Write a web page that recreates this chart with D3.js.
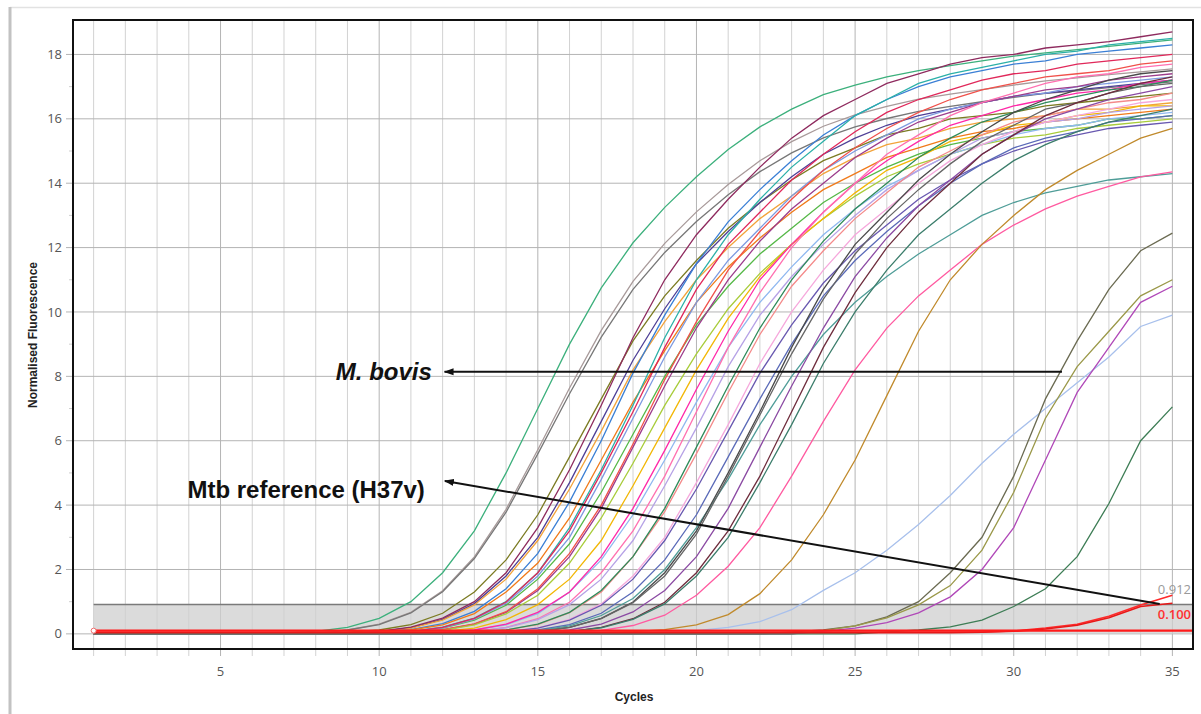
<!DOCTYPE html>
<html><head><meta charset="utf-8">
<script src="https://cdn.jsdelivr.net/npm/d3@7"></script>
<style>html,body{margin:0;padding:0;background:#fff;}svg{display:block;}</style>
</head><body>
<svg id="chart" width="1201" height="714"></svg>
<script>
// ---- data -------------------------------------------------------------
const cycles = [1,2,3,4,5,6,7,8,9,10,11,12,13,14,15,16,17,18,19,20,21,22,23,24,25,26,27,28,29,30,31,32,33,34,35];
const xTicks = [5,10,15,20,25,30,35];
const yTicks = [0,2,4,6,8,10,12,14,16,18];
const yMinorTicks = [1,3,5,7,9,11,13,15,17];
const thresholdHigh = 0.912;
const thresholdLow = 0.100;

// normalised fluorescence per cycle (cycles 1..35), one array per sample
const curveA1 = [0,0,0,0,0,0,0.04,0.08,0.2,0.48,1.0,1.9,3.2,5.0,7.0,9.0,10.75,12.15,13.25,14.2,15.05,15.75,16.3,16.75,17.05,17.3,17.5,17.65,17.8,17.95,18.05,18.15,18.25,18.35,18.45];
const curveA2 = [0,0,0,0,0,0,0.03,0.05,0.12,0.3,0.67,1.34,2.39,3.87,5.72,7.64,9.43,10.95,12.13,13.11,13.96,14.7,15.29,15.77,16.12,16.39,16.61,16.77,16.91,17.05,17.18,17.27,17.37,17.46,17.55];
const curveA3 = [0,0,0,0,0,0,0,0,0.12,0.29,0.65,1.31,2.34,3.78,5.59,7.46,9.22,10.7,11.85,12.81,13.64,14.36,14.94,15.41,15.75,16.01,16.23,16.39,16.53,16.67,16.79,16.87,16.97,17.06,17.15];
const curveM1 = [0,0,0,0,0,0,0,0,0.05,0.12,0.29,0.64,1.3,2.3,3.7,5.5,7.3,9.1,10.5,11.6,12.6,13.4,14.1,14.7,15.1,15.5,15.7,16.0,16.1,16.2,16.4,16.5,16.6,16.7,16.8];
const curveM2 = [0,0,0,0,0,0,0,0,0,0.07,0.19,0.45,0.94,1.8,3.0,4.7,6.6,8.5,10.1,11.5,12.5,13.4,14.2,14.9,15.4,15.8,16.1,16.3,16.5,16.7,16.8,16.9,17.0,17.1,17.2];
const curveM3 = [0,0,0,0,0,0,0,0,0,0.07,0.18,0.43,0.9,1.7,2.9,4.5,6.3,8.2,9.7,11.0,12.0,12.9,13.6,14.3,14.8,15.2,15.4,15.7,15.9,16.0,16.1,16.3,16.3,16.4,16.5];
const curveM4 = [0,0,0,0,0,0,0,0,0,0.08,0.21,0.49,1.0,1.9,3.3,5.1,7.1,9.2,11.0,12.4,13.5,14.5,15.4,16.1,16.6,17.1,17.4,17.7,17.9,18.0,18.2,18.3,18.4,18.55,18.7];
const curveM6 = [0,0,0,0,0,0,0,0,0,0.06,0.13,0.32,0.7,1.4,2.5,4.1,6.0,8.1,9.9,11.5,12.8,13.8,14.7,15.5,16.1,16.6,17.0,17.3,17.5,17.7,17.8,18.0,18.1,18.2,18.3];
const curveM7 = [0,0,0,0,0,0,0,0,0,0.05,0.12,0.28,0.63,1.3,2.2,3.6,5.4,7.2,8.8,10.3,11.4,12.3,13.1,13.8,14.3,14.8,15.1,15.4,15.6,15.7,15.9,16.0,16.1,16.2,16.3];
const curveM5 = [0,0,0,0,0,0,0,0,0,0,0.08,0.21,0.49,1.0,1.9,3.3,5.1,7.1,9.2,11.0,12.4,13.5,14.5,15.3,16.1,16.6,17.1,17.4,17.6,17.8,18.0,18.1,18.3,18.4,18.5];
const curveM8 = [0,0,0,0,0,0,0,0,0,0,0.07,0.18,0.43,0.89,1.7,2.8,4.4,6.2,8.0,9.6,10.8,11.8,12.6,13.4,14.0,14.5,14.9,15.2,15.4,15.6,15.7,15.8,16.0,16.0,16.1];
const curveM9 = [0,0,0,0,0,0,0,0,0,0,0.07,0.19,0.46,0.95,1.8,3.0,4.8,6.7,8.6,10.3,11.6,12.6,13.6,14.4,15.0,15.5,16.0,16.3,16.5,16.7,16.8,17.0,17.1,17.2,17.3];
const curveM10 = [0,0,0,0,0,0,0,0,0,0,0.07,0.2,0.48,0.99,1.9,3.2,5.0,6.9,8.9,10.7,12.1,13.1,14.1,14.9,15.6,16.2,16.6,16.9,17.2,17.4,17.5,17.7,17.8,17.9,18.0];
const curveM11 = [0,0,0,0,0,0,0,0,0,0,0.05,0.12,0.3,0.67,1.35,2.4,3.9,5.8,7.7,9.5,11.0,12.2,13.2,14.0,14.8,15.4,15.9,16.2,16.5,16.7,16.9,17.0,17.2,17.3,17.4];
const curveM12 = [0,0,0,0,0,0,0,0,0,0,0.05,0.13,0.31,0.69,1.4,2.5,4.0,5.9,7.9,9.7,11.3,12.5,13.5,14.4,15.1,15.7,16.2,16.6,16.9,17.1,17.3,17.4,17.5,17.7,17.8];
const curveM20 = [0,0,0,0,0,0,0,0,0,0,0.05,0.11,0.28,0.62,1.2,2.2,3.6,5.3,7.1,8.7,10.1,11.2,12.1,12.9,13.6,14.2,14.6,14.9,15.2,15.4,15.5,15.7,15.8,15.9,16.0];
const curveM13 = [0,0,0,0,0,0,0,0,0,0,0,0.07,0.18,0.44,0.91,1.7,2.9,4.6,6.4,8.2,9.8,11.1,12.1,12.9,13.7,14.4,14.8,15.3,15.5,15.8,15.9,16.1,16.2,16.4,16.4];
const curveM14 = [0,0,0,0,0,0,0,0,0,0,0,0.05,0.12,0.28,0.63,1.3,2.3,3.7,5.4,7.2,8.9,10.3,11.4,12.4,13.2,13.9,14.4,14.9,15.2,15.5,15.7,15.8,16.0,16.1,16.2];
const curveM15 = [0,0,0,0,0,0,0,0,0,0,0,0.05,0.12,0.3,0.67,1.3,2.4,3.9,5.7,7.6,9.4,11.0,12.1,13.1,14.0,14.7,15.3,15.8,16.1,16.4,16.6,16.8,16.9,17.1,17.2];
const curveM16 = [0,0,0,0,0,0,0,0,0,0,0,0,0.07,0.2,0.47,0.98,1.9,3.2,4.9,6.9,8.9,10.6,12.0,13.1,14.0,14.9,15.5,16.1,16.5,16.8,17.1,17.3,17.4,17.6,17.7];
const curveM21 = [0,0,0,0,0,0,0,0,0,0,0,0,0.07,0.19,0.44,0.91,1.7,2.9,4.6,6.4,8.3,9.9,11.1,12.1,13.0,13.8,14.4,14.9,15.4,15.6,15.9,16.0,16.2,16.3,16.4];
const curveM17 = [0,0,0,0,0,0,0,0,0,0,0,0,0.05,0.12,0.29,0.66,1.3,2.4,3.8,5.6,7.5,9.3,10.8,11.9,12.9,13.7,14.5,15.0,15.5,15.9,16.1,16.3,16.5,16.6,16.8];
const curveM18 = [0,0,0,0,0,0,0,0,0,0,0,0,0.05,0.12,0.3,0.67,1.35,2.4,3.9,5.8,7.7,9.5,11.0,12.2,13.2,14.0,14.8,15.4,15.9,16.2,16.5,16.7,16.9,17.0,17.2];
const curveM19 = [0,0,0,0,0,0,0,0,0,0,0,0,0,0.07,0.19,0.45,0.93,1.8,3.0,4.7,6.5,8.4,10.0,11.3,12.4,13.2,14.0,14.7,15.2,15.6,15.9,16.1,16.3,16.5,16.6];
const curveE2 = [0,0,0,0,0,0,0,0,0,0,0,0,0,0.07,0.18,0.43,0.89,1.7,2.9,4.5,6.3,8.1,9.6,10.9,11.9,12.7,13.5,14.1,14.6,15.0,15.3,15.5,15.7,15.8,15.9];
const curveE2b = [0,0,0,0,0,0,0,0,0,0,0,0,0,0.05,0.12,0.29,0.64,1.3,2.3,3.7,5.5,7.3,9.0,10.5,11.6,12.5,13.3,14.0,14.6,15.1,15.4,15.6,15.9,16.0,16.1];
const curveE1 = [0,0,0,0,0,0,0,0,0,0,0,0,0,0.04,0.1,0.25,0.57,1.1,2.0,3.3,4.8,6.5,8.0,9.3,10.3,11.1,11.8,12.4,13.0,13.4,13.7,13.9,14.1,14.2,14.3];
const curveE3 = [0,0,0,0,0,0,0,0,0,0,0,0,0,0,0.07,0.2,0.48,0.99,1.9,3.2,5.0,6.9,8.9,10.7,12.1,13.1,14.1,14.9,15.6,16.2,16.6,16.9,17.2,17.4,17.5];
const curveE3b = [0,0,0,0,0,0,0,0,0,0,0,0,0,0,0.07,0.2,0.47,0.97,1.8,3.1,4.9,6.8,8.7,10.4,11.8,12.9,13.8,14.6,15.3,15.8,16.3,16.5,16.8,17.0,17.1];
const curveE4 = [0,0,0,0,0,0,0,0,0,0,0,0,0,0,0.05,0.12,0.3,0.68,1.35,2.4,3.9,5.8,7.7,9.5,11.1,12.3,13.3,14.1,14.9,15.5,16.0,16.3,16.6,16.8,17.0];
const curveE5 = [0,0,0,0,0,0,0,0,0,0,0,0,0,0,0,0.07,0.2,0.47,0.98,1.9,3.2,4.9,6.9,8.9,10.6,12.0,13.1,14.0,14.9,15.5,16.1,16.5,16.8,17.1,17.3];
const curveE6 = [0,0,0,0,0,0,0,0,0,0,0,0,0,0,0,0.07,0.19,0.45,0.93,1.8,3.0,4.7,6.5,8.4,10.0,11.3,12.4,13.2,14.0,14.7,15.2,15.6,15.9,16.1,16.3];
const curveE7 = [0,0,0,0,0,0,0,0,0,0,0,0,0,0,0,0.05,0.11,0.26,0.58,1.2,2.1,3.3,4.9,6.6,8.2,9.5,10.5,11.3,12.1,12.7,13.2,13.6,13.9,14.2,14.35];
const curveO = [0,0,0,0,0,0,0,0,0,0,0,0,0,0,0,0,0.04,0.07,0.13,0.28,0.6,1.25,2.3,3.7,5.4,7.4,9.4,11.0,12.1,13.0,13.8,14.4,14.9,15.4,15.7];
const curveLB = [0,0,0,0,0,0,0,0,0,0,0,0,0,0,0,0,0,0,0.05,0.1,0.2,0.38,0.75,1.35,1.9,2.6,3.4,4.3,5.3,6.2,7.0,7.8,8.6,9.55,9.9];
const curveL1 = [0,0,0,0,0,0,0,0,0,0,0,0,0,0,0,0,0,0,0,0,0,0,0.06,0.12,0.25,0.53,1.0,1.9,3.0,4.9,7.3,9.1,10.7,11.9,12.45];
const curveL2 = [0,0,0,0,0,0,0,0,0,0,0,0,0,0,0,0,0,0,0,0,0,0,0,0.1,0.25,0.5,0.9,1.5,2.6,4.4,6.7,8.3,9.4,10.5,11.0];
const curveL3 = [0,0,0,0,0,0,0,0,0,0,0,0,0,0,0,0,0,0,0,0,0,0,0,0.08,0.18,0.35,0.65,1.15,2.0,3.3,5.4,7.5,8.9,10.3,10.8];
const curveDG = [0,0,0,0,0,0,0,0,0,0,0,0,0,0,0,0,0,0,0,0,0,0,0,0,0,0.06,0.12,0.22,0.43,0.85,1.4,2.4,4.05,6.0,7.05];
const curveR1 = [0.05,0.05,0.05,0.05,0.05,0.05,0.05,0.05,0.05,0.05,0.05,0.05,0.05,0.05,0.05,0.05,0.05,0.05,0.05,0.05,0.05,0.05,0.05,0.05,0.05,0.05,0.05,0.05,0.06,0.09,0.18,0.3,0.55,0.9,1.2];
const curveR2 = [0.04,0.04,0.04,0.04,0.04,0.04,0.04,0.04,0.04,0.04,0.04,0.04,0.04,0.04,0.04,0.04,0.04,0.04,0.04,0.04,0.04,0.04,0.04,0.04,0.04,0.04,0.04,0.04,0.05,0.08,0.15,0.27,0.5,0.85,0.95];

const curves = [curveA1,curveA2,curveA3,curveM1,curveM2,curveM3,curveM4,curveM6,curveM7,curveM5,curveM8,curveM9,curveM10,curveM11,curveM12,curveM20,curveM13,curveM14,curveM15,curveM16,curveM21,curveM17,curveM18,curveM19,curveE2,curveE2b,curveE1,curveE3,curveE3b,curveE4,curveE5,curveE6,curveE7,curveO,curveLB,curveL1,curveL2,curveL3,curveDG];
const curveColors = ["#3cb07c","#a89a9a","#777777","#7b7b22","#4e3f96","#f2a33a","#8e2a5e","#3a7fd5","#f07a1a","#2bb0a8","#55b847","#7d9ae0","#e0285a","#9c3c8c","#f0504a","#a8cc3a","#f2b705","#8fb8f0","#ff28a8","#ff70b0","#b6a2e6","#f48a8a","#2e8b5a","#f6a8dc","#6858b0","#5a6ab8","#4f9d98","#4a4a4a","#666666","#8b4aa3","#6e2c3c","#3b7d6b","#ff5aa0","#c08a2c","#a8c0ec","#6b6b52","#9a9848","#b048b8","#3d7d55"];
const redCurves = [curveR1, curveR2];
const redColors = ["#ff2a2a", "#e81818"];

// ---- layout -----------------------------------------------------------
const svg = d3.select("#chart");
const plot = {left: 73, top: 20, right: 1193, bottom: 649};
const x = d3.scaleLinear().domain([0.35, 35.65]).range([plot.left, plot.right]);
const y = d3.scaleLinear().domain([-0.47, 19.07]).range([plot.bottom, plot.top]);

// window edges
svg.append("line").attr("x1", 10).attr("x2", 1201).attr("y1", 7.5).attr("y2", 7.5)
  .attr("stroke", "#e2e2e2").attr("stroke-width", 1.5);
svg.append("line").attr("x1", 10).attr("x2", 10).attr("y1", 7).attr("y2", 714)
  .attr("stroke", "#c2c2c2").attr("stroke-width", 3);

// grid: vertical line at every cycle, darker every 5
const grid = svg.append("g");
grid.selectAll("line.v").data(cycles).join("line")
  .attr("x1", d => x(d)).attr("x2", d => x(d))
  .attr("y1", plot.top).attr("y2", plot.bottom + 7)
  .attr("stroke", d => d % 5 === 0 ? "#b4b4b4" : "#d2d2d2").attr("stroke-width", 1);
grid.selectAll("line.h").data(yTicks).join("line")
  .attr("x1", plot.left - 7).attr("x2", plot.right)
  .attr("y1", d => y(d)).attr("y2", d => y(d))
  .attr("stroke", "#b4b4b4").attr("stroke-width", 1);
grid.selectAll("line.m").data(yMinorTicks).join("line")
  .attr("x1", plot.left - 4).attr("x2", plot.left)
  .attr("y1", d => y(d)).attr("y2", d => y(d))
  .attr("stroke", "#cfcfcf").attr("stroke-width", 1);

// threshold band
svg.append("rect")
  .attr("x", x(1)).attr("width", plot.right - x(1))
  .attr("y", y(thresholdHigh)).attr("height", y(0) - y(thresholdHigh))
  .attr("fill", "#cfcfcf").attr("fill-opacity", 0.75);
svg.append("line")
  .attr("x1", x(1)).attr("x2", plot.right)
  .attr("y1", y(thresholdHigh)).attr("y2", y(thresholdHigh))
  .attr("stroke", "#7a7a7a").attr("stroke-width", 1.5);

// amplification curves
const line = d3.line().x((d, i) => x(cycles[i])).y(d => y(d));
svg.append("g").selectAll("path").data(curves).join("path")
  .attr("d", line).attr("fill", "none")
  .attr("stroke", (d, i) => curveColors[i]).attr("stroke-width", 1.3);

svg.append("g").selectAll("path").data(redCurves).join("path")
  .attr("d", line).attr("fill", "none")
  .attr("stroke", (d, i) => redColors[i]).attr("stroke-width", 1.6);

// lower threshold line
svg.append("line")
  .attr("x1", x(1)).attr("x2", plot.right)
  .attr("y1", y(thresholdLow)).attr("y2", y(thresholdLow))
  .attr("stroke", "#ff1a1a").attr("stroke-width", 2.2);
svg.append("circle").attr("cx", x(1)).attr("cy", y(thresholdLow)).attr("r", 2.5)
  .attr("fill", "#fff").attr("stroke", "#f07070").attr("stroke-width", 1);

// threshold labels
svg.append("text").attr("x", plot.right - 2).attr("y", y(thresholdHigh) - 11)
  .attr("text-anchor", "end").attr("font-family", "Open Sans, sans-serif")
  .attr("font-size", 13).attr("fill", "#9a9a9a").text(thresholdHigh.toFixed(3));
svg.append("text").attr("x", plot.right - 2).attr("y", y(thresholdLow) - 12)
  .attr("text-anchor", "end").attr("font-family", "Open Sans, sans-serif")
  .attr("font-size", 13).attr("font-weight", 600).attr("fill", "#ff3030").text(thresholdLow.toFixed(3));

// frame
svg.append("rect").attr("x", plot.left).attr("y", plot.top)
  .attr("width", plot.right - plot.left).attr("height", plot.bottom - plot.top)
  .attr("fill", "none").attr("stroke", "#111").attr("stroke-width", 2);

// tick labels
svg.append("g").selectAll("text").data(yTicks).join("text")
  .attr("x", 62).attr("y", d => y(d)).attr("dy", "0.35em")
  .attr("text-anchor", "end").attr("font-family", "Open Sans, sans-serif")
  .attr("font-size", 13).attr("fill", "#555").text(d => d);
svg.append("g").selectAll("text").data(xTicks).join("text")
  .attr("x", d => x(d)).attr("y", 676)
  .attr("text-anchor", "middle").attr("font-family", "Open Sans, sans-serif")
  .attr("font-size", 13).attr("fill", "#555").text(d => d);

// axis titles
svg.append("text").attr("transform", "translate(37,335) rotate(-90)")
  .attr("text-anchor", "middle").attr("font-family", "Liberation Sans, Arial, sans-serif")
  .attr("font-size", 12).attr("font-weight", "bold").attr("fill", "#222")
  .text("Normalised Fluorescence");
svg.append("text").attr("x", 634).attr("y", 701)
  .attr("text-anchor", "middle").attr("font-family", "Liberation Sans, Arial, sans-serif")
  .attr("font-size", 12).attr("font-weight", "bold").attr("fill", "#222")
  .text("Cycles");

// annotations
const annotations = [
  {label: "M. bovis", italic: true, textAt: [11.66, 8.14], tail: [31.52, 8.14], head: [12.06, 8.14]},
  {label: "Mtb reference (H37v)", italic: false, textAt: [11.44, 4.5], tail: [34.6, 0.93], head: [12.07, 4.75]}
];
svg.append("defs").append("marker")
  .attr("id", "arrow").attr("viewBox", "0 -5 10 10")
  .attr("refX", 9).attr("refY", 0)
  .attr("markerWidth", 10).attr("markerHeight", 10)
  .attr("markerUnits", "userSpaceOnUse").attr("orient", "auto")
  .append("path").attr("d", "M0,-3.5L10,0L0,3.5Z").attr("fill", "#111");
const ann = svg.append("g");
ann.selectAll("line").data(annotations).join("line")
  .attr("x1", d => x(d.tail[0])).attr("y1", d => y(d.tail[1]))
  .attr("x2", d => x(d.head[0])).attr("y2", d => y(d.head[1]))
  .attr("stroke", "#111").attr("stroke-width", 2).attr("marker-end", "url(#arrow)");
ann.selectAll("text").data(annotations).join("text")
  .attr("x", d => x(d.textAt[0])).attr("y", d => y(d.textAt[1])).attr("dy", "0.36em")
  .attr("text-anchor", "end").attr("font-family", "Liberation Sans, Arial, sans-serif")
  .attr("font-size", 24).attr("font-weight", "bold")
  .attr("font-style", d => d.italic ? "italic" : "normal").attr("fill", "#111")
  .text(d => d.label);
</script>
</body></html>
